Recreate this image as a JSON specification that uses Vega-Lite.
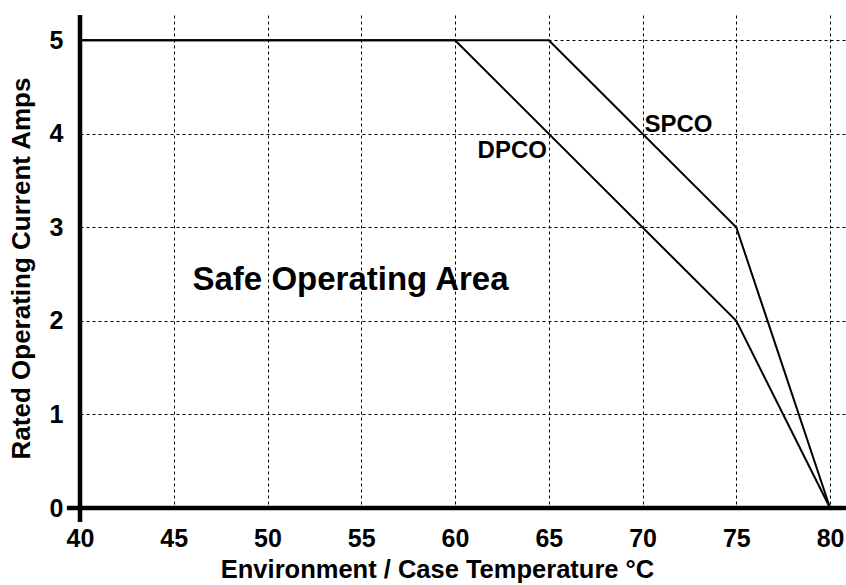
{
  "$schema": "https://vega.github.io/schema/vega-lite/v6.json",
  "width": 766,
  "height": 493,
  "autosize": "none",
  "padding": {"left": 80, "top": 15, "right": 0, "bottom": 77},
  "background": "white",
  "config": {
    "view": {"stroke": null},
    "font": "Liberation Sans",
    "axis": {
      "domain": false,
      "ticks": false,
      "grid": true,
      "gridColor": "#000000",
      "gridDash": [3, 3],
      "gridWidth": 1,
      "gridOpacity": 1,
      "labelFont": "Liberation Sans",
      "labelFontWeight": "bold",
      "labelFontSize": 25,
      "labelColor": "#000000",
      "labelFlush": false,
      "labelOverlap": false,
      "format": "d",
      "titleFont": "Liberation Sans",
      "titleFontWeight": "bold",
      "titleColor": "#000000"
    }
  },
  "datasets": {
    "curves": [
      {"temp": 40, "amps": 5, "series": "SPCO"},
      {"temp": 65, "amps": 5, "series": "SPCO"},
      {"temp": 75, "amps": 3, "series": "SPCO"},
      {"temp": 80, "amps": 0, "series": "SPCO"},
      {"temp": 40, "amps": 5, "series": "DPCO"},
      {"temp": 60, "amps": 5, "series": "DPCO"},
      {"temp": 75, "amps": 2, "series": "DPCO"},
      {"temp": 80, "amps": 0, "series": "DPCO"}
    ],
    "notes": [
      {"temp": 70.1, "amps": 4.02, "text": "SPCO", "side": "left", "size": 24},
      {"temp": 64.9, "amps": 3.74, "text": "DPCO", "side": "right", "size": 24},
      {"temp": 46.0, "amps": 2.33, "text": "Safe Operating Area", "side": "left", "size": 33}
    ],
    "axes": [
      {"x1": 40, "x2": 40, "y1": -0.15, "y2": 5.27},
      {"x1": 39.3, "x2": 80.85, "y1": 0, "y2": 0}
    ]
  },
  "layer": [
    {
      "data": {"name": "curves"},
      "mark": {"type": "line", "color": "#000000", "strokeWidth": 2, "clip": false},
      "encoding": {
        "x": {
          "field": "temp",
          "type": "quantitative",
          "scale": {"domain": [40, 80.85], "nice": false, "zero": false},
          "axis": {
            "values": [40, 45, 50, 55, 60, 65, 70, 75, 80],
            "labelPadding": 18,
            "title": "Environment / Case Temperature °C",
            "titleFontSize": 25.5,
            "titlePadding": 6,
            "titleX": 357,
            "titleAlign": "center"
          }
        },
        "y": {
          "field": "amps",
          "type": "quantitative",
          "scale": {"domain": [0, 5.27], "nice": false},
          "axis": {
            "values": [0, 1, 2, 3, 4, 5],
            "labelPadding": 17,
            "title": "Rated Operating Current Amps",
            "titleFontSize": 26,
            "titlePadding": 15,
            "titleY": 253,
            "titleAlign": "center"
          }
        },
        "detail": {"field": "series"}
      }
    },
    {
      "data": {"name": "axes"},
      "mark": {"type": "rule", "color": "#000000", "strokeWidth": 4.5, "clip": false},
      "encoding": {
        "x": {"field": "x1", "type": "quantitative"},
        "x2": {"field": "x2"},
        "y": {"field": "y1", "type": "quantitative"},
        "y2": {"field": "y2"}
      }
    },
    {
      "data": {"name": "notes"},
      "transform": [{"filter": "datum.side === 'left'"}],
      "mark": {"type": "text", "align": "left", "baseline": "alphabetic", "fontWeight": "bold", "color": "#000000"},
      "encoding": {
        "x": {"field": "temp", "type": "quantitative"},
        "y": {"field": "amps", "type": "quantitative"},
        "text": {"field": "text"},
        "size": {"field": "size", "type": "quantitative", "scale": null}
      }
    },
    {
      "data": {"name": "notes"},
      "transform": [{"filter": "datum.side === 'right'"}],
      "mark": {"type": "text", "align": "right", "baseline": "alphabetic", "fontWeight": "bold", "color": "#000000"},
      "encoding": {
        "x": {"field": "temp", "type": "quantitative"},
        "y": {"field": "amps", "type": "quantitative"},
        "text": {"field": "text"},
        "size": {"field": "size", "type": "quantitative", "scale": null}
      }
    }
  ]
}
